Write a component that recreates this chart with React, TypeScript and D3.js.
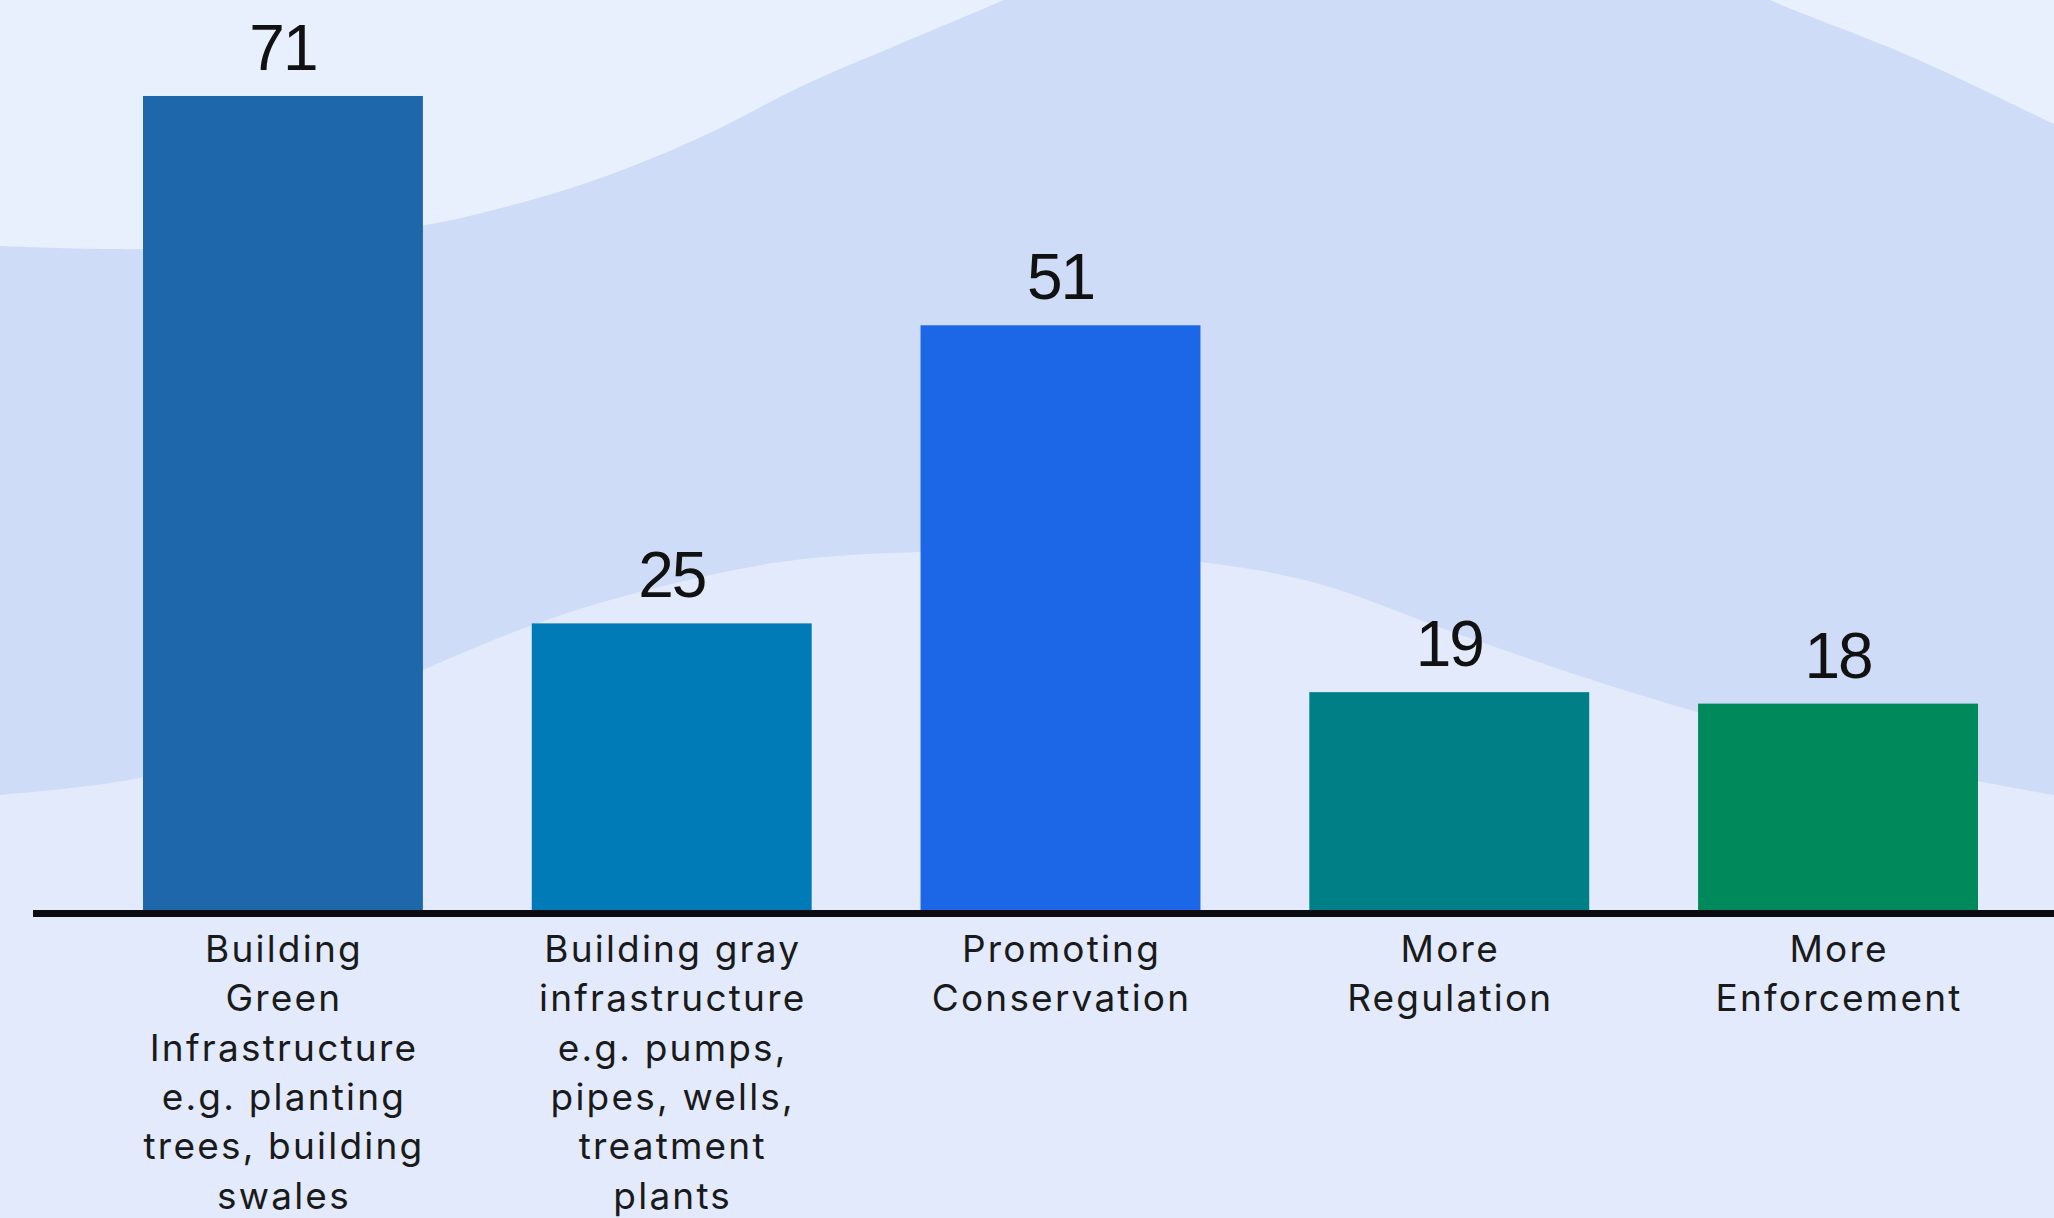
import React from "react";
import * as d3 from "d3";

const categories = [
  "Building Green Infrastructure",
  "Building gray infrastructure",
  "Promoting Conservation",
  "More Regulation",
  "More Enforcement",
];
const categoryLines = [
  ["Building", "Green", "Infrastructure", "e.g. planting", "trees, building", "swales"],
  ["Building gray", "infrastructure", "e.g. pumps,", "pipes, wells,", "treatment", "plants"],
  ["Promoting", "Conservation"],
  ["More", "Regulation"],
  ["More", "Enforcement"],
];
const values = [71, 25, 51, 19, 18];
const barColors = ["#1f67ab", "#007bb8", "#1c66e8", "#008086", "#00895b"];

// decorative background wave outlines
const upperLeftEdge: [number, number][] = [
  [0, 246], [143, 249], [300, 240], [426, 225], [520, 203], [589, 182], [660, 155], [720, 128], [800, 87], [902, 43], [1004, 0], [1060, -25],
];
const upperRightEdge: [number, number][] = [
  [1730, -20], [1770, 0], [1912, 57], [2054, 124], [2080, 136],
];
const lowerEdge: [number, number][] = [
  [-20, 797], [0, 795], [143, 777], [300, 727], [423, 670], [530, 626], [625, 596], [780, 562], [918, 552], [1060, 552], [1202, 562], [1316, 583], [1450, 631], [1580, 676], [1697, 712], [1840, 750], [1978, 781], [2054, 795], [2080, 799],
];

const W = 2054;
const H = 1218;
const baseY = 910;

export default function App() {
  const x = d3.scaleBand<string>().domain(categories).range([143, 1978]).paddingInner(0.28).paddingOuter(0);
  const y = d3.scaleLinear().domain([0, d3.max(values) as number]).range([baseY, 96]);

  const curve = d3.line().curve(d3.curveCatmullRom.alpha(0.5));
  const bandPath =
    "M" + curve(upperLeftEdge)!.slice(1) +
    "L1400,-40" +
    "L" + curve(upperRightEdge)!.slice(1) +
    "L" + curve([...lowerEdge].reverse())!.slice(1) + "Z";

  return (
    <svg width={W} height={H} style={{ position: "absolute", left: 0, top: 0, display: "block" }}>
      <rect x={0} y={0} width={W} height={H} fill="#e2eafc" />
      <rect x={0} y={0} width={W} height={300} fill="#e9f0fd" />
      <path d={bandPath} fill="#cfdcf7" />
      {categories.map((c, i) => (
        <g key={c}>
          <rect
            x={x(c)}
            y={y(values[i])}
            width={x.bandwidth()}
            height={baseY - y(values[i])}
            fill={barColors[i]}
          />
          <text
            x={(x(c) as number) + x.bandwidth() / 2}
            y={y(values[i]) - 26}
            textAnchor="middle"
            fontFamily="'Liberation Sans', Arial, sans-serif"
            fontSize={64}
            letterSpacing={-2}
            fill="#111111"
          >
            {values[i]}
          </text>
          <text
            textAnchor="middle"
            fontFamily="Inter, 'Noto Sans', sans-serif"
            fontSize={37}
            letterSpacing={2.2}
            fill="#1a1a1a"
          >
            {categoryLines[i].map((ln, j) => (
              <tspan key={j} x={(x(c) as number) + x.bandwidth() / 2 + 1} y={962 + j * 49.3}>
                {ln}
              </tspan>
            ))}
          </text>
        </g>
      ))}
      <line x1={33} x2={W} y1={baseY + 3.5} y2={baseY + 3.5} stroke="#0b0b12" strokeWidth={7} />
    </svg>
  );
}
